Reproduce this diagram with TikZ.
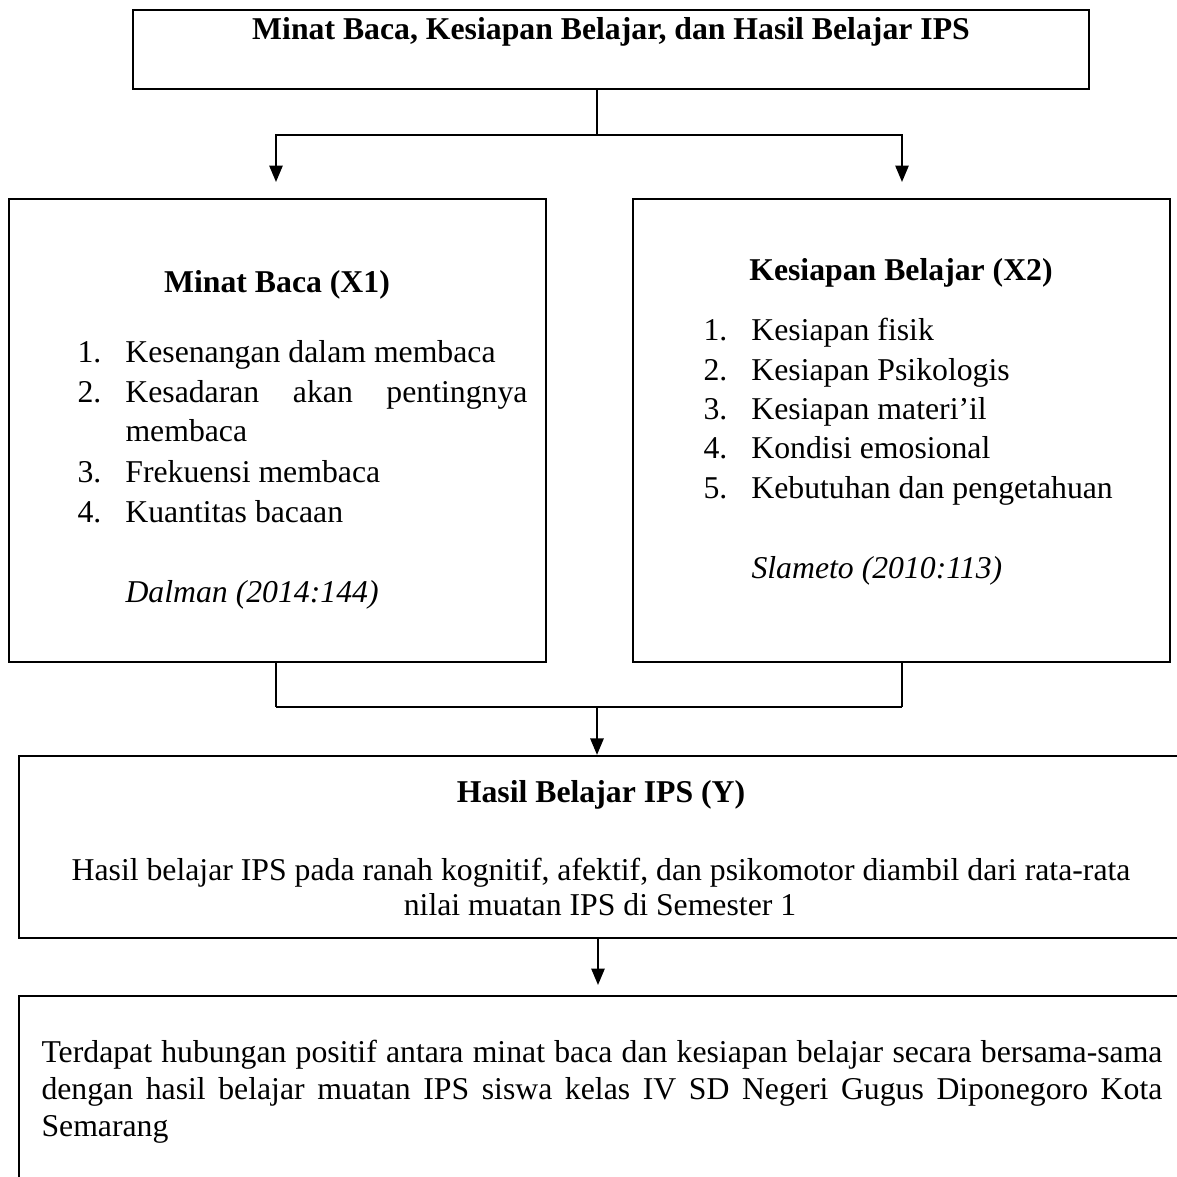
\documentclass[tikz,border=0pt]{standalone}
\usepackage{fontspec}
\setmainfont{Liberation Serif}
\usepackage{tikz}
\usetikzlibrary{arrows.meta,fit}

\begin{document}
\begin{tikzpicture}[
	x=0.378pt, y=-0.378pt,
	boxFrame/.style={draw=black, line width=0.85pt, inner sep=0pt},
	headText/.style={font=\fontsize{12}{14}\selectfont\bfseries, inner sep=0pt, anchor=base},
	plainText/.style={font=\fontsize{12}{14}\selectfont, inner sep=0pt, anchor=base},
	itemText/.style={font=\fontsize{12}{14}\selectfont, inner sep=0pt, anchor=base west},
	thinLine/.style={line width=0.4pt},
	arrowLine/.style={line width=0.75pt, -{Triangle[length=6.2pt, width=5pt]}}
]

	\useasboundingbox (0,0) rectangle (1177,1177);

	\node[boxFrame, fit={(133,10) (1089,89)}] (boxTop) {};
	\node[boxFrame, fit={(9,199) (546,662)}] (boxX1) {};
	\node[boxFrame, fit={(633,199) (1170,662)}] (boxX2) {};
	\node[boxFrame, fit={(19,756) (1210,938)}] (boxY) {};
	\node[boxFrame, fit={(19,996) (1210,1210)}] (boxResult) {};

	\node[headText] (textTop) at (611,40) {Minat Baca, Kesiapan Belajar, dan Hasil Belajar IPS};

	\node[headText] (textX1) at (277,292) {Minat Baca (X1)};
	\node[itemText] (itemX1a) at (77,362) {\makebox[18.1pt][l]{1.}Kesenangan dalam membaca};
	\node[itemText] (itemX1b) at (77,402) {\makebox[18.1pt][l]{2.}\makebox[152pt][s]{Kesadaran akan pentingnya}};
	\node[itemText] (itemX1c) at (125,441) {membaca};
	\node[itemText] (itemX1d) at (77,482) {\makebox[18.1pt][l]{3.}Frekuensi membaca};
	\node[itemText] (itemX1e) at (77,522) {\makebox[18.1pt][l]{4.}Kuantitas bacaan};
	\node[itemText] (refX1) at (125,602) {\textit{Dalman (2014:144)}};

	\node[headText] (textX2) at (901,280) {Kesiapan Belajar (X2)};
	\node[itemText] (itemX2a) at (703,340) {\makebox[18.1pt][l]{1.}Kesiapan fisik};
	\node[itemText] (itemX2b) at (703,380) {\makebox[18.1pt][l]{2.}Kesiapan Psikologis};
	\node[itemText] (itemX2c) at (703,419) {\makebox[18.1pt][l]{3.}Kesiapan materi’il};
	\node[itemText] (itemX2d) at (703,458) {\makebox[18.1pt][l]{4.}Kondisi emosional};
	\node[itemText] (itemX2e) at (703,498) {\makebox[18.1pt][l]{5.}Kebutuhan dan pengetahuan};
	\node[itemText] (refX2) at (751,578) {\textit{Slameto (2010:113)}};

	\node[headText] (textY) at (601,802) {Hasil Belajar IPS (Y)};
	\node[plainText] (textYa) at (601,880) {Hasil belajar IPS pada ranah kognitif, afektif, dan psikomotor diambil dari rata-rata};
	\node[plainText] (textYb) at (600,915) {nilai muatan IPS di Semester 1};

	\node[itemText] (textResultA) at (41,1062) {\makebox[423.7pt][s]{Terdapat hubungan positif antara minat baca dan kesiapan belajar secara bersama-sama}};
	\node[itemText] (textResultB) at (41,1099) {\makebox[423.7pt][s]{dengan hasil belajar muatan IPS siswa kelas IV SD Negeri Gugus Diponegoro Kota}};
	\node[itemText] (textResultC) at (41,1136) {Semarang};

	\coordinate (splitTop) at (597,135);
	\coordinate (tipX1) at (276,182);
	\coordinate (tipX2) at (902,182);
	\coordinate (joinBottom) at (597,707);
	\coordinate (tipResult) at (598,985);

	\draw[thinLine] (boxTop.south -| splitTop) -- (splitTop);
	\draw[arrowLine] (splitTop) -| (tipX1);
	\draw[arrowLine] (splitTop) -| (tipX2);

	\draw[thinLine] (boxX1.south -| tipX1) -- (tipX1 |- joinBottom);
	\draw[thinLine] (boxX2.south -| tipX2) -- (tipX2 |- joinBottom);
	\draw[line width=0.75pt] (tipX1 |- joinBottom) -- (tipX2 |- joinBottom);
	\draw[arrowLine] (joinBottom) -- (boxY.north -| joinBottom);

	\draw[arrowLine] (boxY.south -| tipResult) -- (tipResult);
\end{tikzpicture}
\end{document}
